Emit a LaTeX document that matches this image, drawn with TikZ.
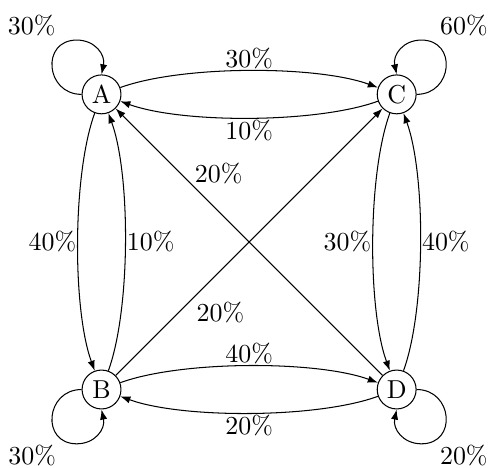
\documentclass[tikz,border=0pt]{standalone}
\usetikzlibrary{arrows.meta}
\begin{document}
\begin{tikzpicture}[
  >={Latex[length=3.9pt,width=2.8pt]},
  state/.style={circle, draw, minimum size=15pt, inner sep=0pt},
  lbl/.style={inner sep=0.5pt},
  looplbl/.style={inner sep=0pt},
  arc/.style={looseness=0.65}
]
\useasboundingbox (-1.376,-1.054) rectangle (5.238,5.279);
\node[state] (A) at (0,4) {A};
\node[state] (C) at (4,4) {C};
\node[state] (B) at (0,0) {B};
\node[state] (D) at (4,0) {D};

% loop tops
\coordinate (tA) at ([shift={(-0.336,0.736)}]A.center);
\coordinate (tC) at ([shift={(0.336,0.736)}]C.center);
\coordinate (tB) at ([shift={(-0.336,-0.736)}]B.center);
\coordinate (tD) at ([shift={(0.336,-0.736)}]D.center);

% loops
\draw[->] (A.west) .. controls +(-0.49,0) and +(-0.49,0) .. (tA)
                   .. controls +(0.25,0) and +(78:0.27) .. (A.north);
\draw[->] (C.east) .. controls +(0.49,0) and +(0.49,0) .. (tC)
                   .. controls +(-0.25,0) and +(102:0.27) .. (C.north);
\draw[->] (B.west) .. controls +(-0.49,0) and +(-0.49,0) .. (tB)
                   .. controls +(0.25,0) and +(-78:0.27) .. (B.south);
\draw[->] (D.east) .. controls +(0.49,0) and +(0.49,0) .. (tD)
                   .. controls +(-0.25,0) and +(-102:0.27) .. (D.south);
\node[looplbl] (lA) at ([shift={(-0.946,0.933)}]A) {30\%};
\node[looplbl] (lC) at ([shift={(0.912,0.933)}]C) {60\%};
\node[looplbl] (lB) at ([shift={(-0.94,-0.9)}]B) {30\%};
\node[looplbl] (lD) at ([shift={(0.91,-0.9)}]D) {20\%};

% horizontal arcs
\path[->] (A) edge[bend left=20, arc] node[lbl, above] (lAC) {30\%} (C);
\path[->] (C) edge[bend left=20, arc] node[lbl, below] (lCA) {10\%} (A);
\path[->] (B) edge[bend left=20, arc] node[lbl, above] (lBD) {40\%} (D);
\path[->] (D) edge[bend left=20, arc] node[lbl, below] (lDB) {20\%} (B);

% vertical arcs
\path[->] (A) edge[bend right=20, arc] node[lbl, left] (lAB) {40\%} (B);
\path[->] (B) edge[bend right=20, arc] node[lbl, right] (lBA) {10\%} (A);
\path[->] (C) edge[bend right=20, arc] node[lbl, left] (lCD) {30\%} (D);
\path[->] (D) edge[bend right=20, arc] node[lbl, right] (lDC) {40\%} (C);

% diagonals
\path[->] (D) edge node[pos=0.71, anchor=south west, inner sep=0.5pt] (lDA) {20\%} (A);
\path[->] (B) edge node[pos=0.29, anchor=north west, inner sep=1.2pt] (lBC) {20\%} (C);
\end{tikzpicture}
\end{document}
